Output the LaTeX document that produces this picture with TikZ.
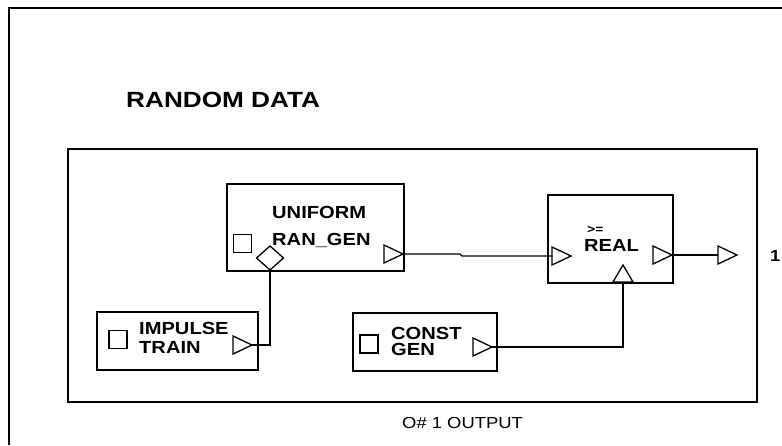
\documentclass[tikz,border=0pt]{standalone}
\usepackage{fontspec}
\newfontfamily\lblfont{Liberation Sans}[FakeStretch=1.15]
\newfontfamily\titlefont{Liberation Sans}[FakeStretch=1.19]
\usetikzlibrary{calc}
\tikzset{
  frameline/.style={line width=1.2pt},
  blockbox/.style={draw, line width=1.3pt, inner sep=0pt, rectangle},
  portsq/.style={draw, line width=1.2pt, inner sep=0pt, minimum width=18pt, minimum height=18pt},
  wire/.style={line width=1.2pt},
  blocktext/.style={anchor=base west, inner sep=0pt, font=\lblfont\bfseries\fontsize{17.5}{20}\selectfont},
  outport/.pic={\draw[line width=1.3pt, line join=miter] (0,0) -- (-19,-9) -- (-19,9) -- cycle;},
}
\begin{document}
\begin{tikzpicture}[x=1pt,y=-1pt]
\useasboundingbox (0,0) rectangle (782,445);

% outer sheet frame
\draw[frameline] (9,445) -- (9,8) -- (782,8);
\node[anchor=base west, inner sep=0pt, font=\titlefont\bfseries\fontsize{22}{24}\selectfont] (title) at (126,107) {RANDOM DATA};

% enclosing subsystem box
\node[blockbox, minimum width=689pt, minimum height=253pt] (sys) at (412.5,275.5) {};
\node[anchor=base west, inner sep=0pt, font=\lblfont\fontsize{16}{19}\selectfont] (outlbl) at (402,428) {O\# 1 OUTPUT};

% UNIFORM RAN_GEN block
\node[blockbox, minimum width=177pt, minimum height=87pt] (uni) at (315.5,227.5) {};
\node[portsq] (unisq) at (242.5,243.5) {};
\node[blocktext] (unit1) at (272,218) {UNIFORM};
\node[blocktext] (unit2) at (272,245) {RAN\_GEN};
\draw[line width=1.3pt] (270,246) -- (283.5,258) -- (270,270) -- (256.5,258) -- cycle;
\coordinate (unidia) at (270,270);
\coordinate (uniout) at (403,254);
\pic at (uniout) {outport};

% IMPULSE TRAIN block
\node[blockbox, minimum width=161pt, minimum height=58pt] (imp) at (177.5,341) {};
\node[portsq] (impsq) at (118,339.5) {};
\node[blocktext] (impt1) at (139,334) {IMPULSE};
\node[blocktext] (impt2) at (139,353) {TRAIN};
\coordinate (impout) at (252,345);
\pic at (impout) {outport};

% CONST GEN block
\node[blockbox, minimum width=144pt, minimum height=58pt] (cst) at (425,342) {};
\node[portsq] (cstsq) at (369,344) {};
\node[blocktext] (cstt1) at (391,339) {CONST};
\node[blocktext] (cstt2) at (391,355) {GEN};
\coordinate (cstout) at (492,347);
\pic at (cstout) {outport};

% >= REAL block
\node[blockbox, minimum width=125pt, minimum height=88pt] (cmp) at (610.5,239) {};
\node[anchor=base west, inner sep=0pt, font=\lblfont\bfseries\fontsize{12}{14}\selectfont] (cmpop) at (587,233) {>=};
\node[blocktext] (cmpt) at (584,251) {REAL};
\coordinate (cmpin) at (571,256);
\pic at (cmpin) {outport};
\coordinate (cmpout) at (672,255);
\pic at (cmpout) {outport};
\draw[line width=1.3pt] (623,265) -- (633,282) -- (613,282) -- cycle;
\coordinate (cmpctl) at (623,283);

% external output port
\coordinate (extout) at (737,255);
\pic at (extout) {outport};
\node[anchor=base west, inner sep=0pt, font=\lblfont\bfseries\fontsize{16}{19}\selectfont] (extnum) at (770,261) {1};

% connections
\draw[wire] (impout) -| (unidia);
\draw[wire] (uniout) -- ++(57,0) -- ($(cmpin)+(-109,0)$) -- ($(cmpin)+(-19,0)$);
\draw[wire] (cstout) -| (cmpctl);
\draw[wire] (cmpout) -- ($(extout)+(-19,0)$);
\end{tikzpicture}
\end{document}
